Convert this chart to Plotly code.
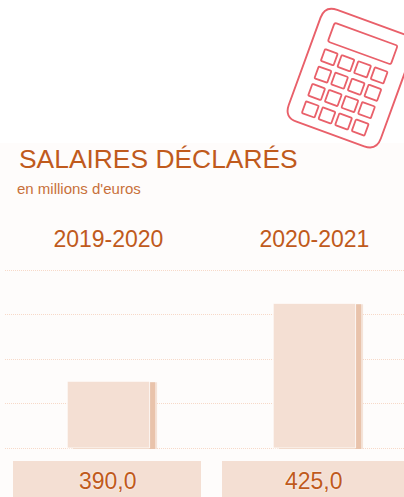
import math
import plotly.graph_objects as go

W, H = 404, 497
periods = ["2019-2020", "2020-2021"]
salaries = [390.0, 425.0]
grid_ticks = [360, 380, 400, 420, 440]
AXIS_BASE = 360

ORANGE = "#C05A1C"
PALE = "#F4DFD3"
SHADOW = "#E9C3AB"
SHADOW_SOFT = "#F5E3D8"
GRID = "#F7D9C8"
RED = "#E9606A"
FONT = "Liberation Sans"

def px(x):
    return x / W

def py(y):
    return 1 - y / H

# calculator icon (decoration), defined in its own rotated frame
ANG = math.radians(20)
OX, OY = 325.0, 5.4

def loc(u, v):
    sx = OX + u * math.cos(ANG) - v * math.sin(ANG)
    sy = OY + u * math.sin(ANG) + v * math.cos(ANG)
    return f"{px(sx):.5f},{py(sy):.5f}"

def rrect(u0, v0, u1, v1, r):
    return (
        f"M{loc(u0 + r, v0)} L{loc(u1 - r, v0)} Q{loc(u1, v0)} {loc(u1, v0 + r)} "
        f"L{loc(u1, v1 - r)} Q{loc(u1, v1)} {loc(u1 - r, v1)} "
        f"L{loc(u0 + r, v1)} Q{loc(u0, v1)} {loc(u0, v1 - r)} "
        f"L{loc(u0, v0 + r)} Q{loc(u0, v0)} {loc(u0 + r, v0)} Z"
    )

def icon_shape(path, width):
    return dict(type="path", path=path, xref="paper", yref="paper",
                line=dict(color=RED, width=width), layer="above")

shapes = [
    dict(type="rect", xref="paper", yref="paper", x0=0, x1=1, y0=0, y1=py(143),
         fillcolor="#FEFCFB", line_width=0, layer="below"),
    dict(type="rect", xref="paper", yref="paper", x0=px(13), x1=px(201), y0=0, y1=py(461),
         fillcolor=PALE, line_width=0, layer="below"),
    dict(type="rect", xref="paper", yref="paper", x0=px(222), x1=1, y0=0, y1=py(461),
         fillcolor=PALE, line_width=0, layer="below"),
    icon_shape(rrect(0, 0, 98, 119, 13), 1.9),
    icon_shape(rrect(15, 13, 82, 33, 2), 1.8),
]
for row in range(4):
    for col in range(4):
        u0 = 15 + col * 17.7
        v0 = 41 + row * 18.5
        shapes.append(icon_shape(rrect(u0, v0, u0 + 13.5, v0 + 12.5, 1), 1.8))

heights = [v - AXIS_BASE for v in salaries]

fig = go.Figure()
fig.add_bar(x=periods, y=heights, base=AXIS_BASE - 0.4, width=0.4, offset=-0.2 + 7.5 / 206,
            marker=dict(color=SHADOW_SOFT, line_width=0), hoverinfo="skip", showlegend=False)
fig.add_bar(x=periods, y=heights, base=AXIS_BASE - 0.4, width=0.4, offset=-0.2 + 5.5 / 206,
            marker=dict(color=SHADOW, line_width=0), hoverinfo="skip", showlegend=False)
fig.add_bar(x=periods, y=heights, base=AXIS_BASE, width=0.4, offset=-0.2,
            marker=dict(color=PALE, line=dict(color="#FFFFFF", width=0.8)), showlegend=False,
            customdata=salaries, hovertemplate="%{x}: %{customdata}<extra></extra>")

annotations = [
    dict(text="SALAIRES DÉCLARÉS", xref="paper", yref="paper", x=px(17), y=py(159),
         xanchor="left", yanchor="middle", showarrow=False,
         font=dict(family=FONT, size=26.4, color=ORANGE)),
    dict(text="en millions d'euros", xref="paper", yref="paper", x=px(15), y=py(189),
         xanchor="left", yanchor="middle", showarrow=False,
         font=dict(family=FONT, size=15, color="#C8703A")),
]
for p, v in zip(periods, salaries):
    annotations.append(dict(
        text=f"{v:.1f}".replace(".", ","), x=p, xref="x", yref="paper", y=py(481),
        xanchor="center", yanchor="middle", showarrow=False,
        font=dict(family=FONT, size=23, color=ORANGE, shadow="0 0 2px #FFFFFF"),
    ))

PAD = 0.7  # axis units kept beyond the first and last gridlines so they stay drawn
UNIT_PX = 178 / 80

fig.update_layout(
    width=W, height=H, autosize=False,
    margin=dict(l=0, r=0, t=0, b=0, pad=0),
    paper_bgcolor="#FFFFFF", plot_bgcolor="rgba(0,0,0,0)",
    barmode="overlay", showlegend=False,
    shapes=shapes, annotations=annotations,
    xaxis=dict(domain=[px(5), 1], type="category", range=[-0.502, 1.435], side="top",
               anchor="y", showgrid=False, zeroline=False, showline=False,
               ticks="", ticklabelstandoff=16, fixedrange=True,
               tickfont=dict(family=FONT, size=23, color=ORANGE)),
    yaxis=dict(domain=[py(448 + PAD * UNIT_PX), py(270 - PAD * UNIT_PX)],
               range=[360 - PAD, 440 + PAD], tickvals=grid_ticks,
               showticklabels=False, ticks="", zeroline=False, showline=False,
               showgrid=True, gridcolor=GRID, griddash="1px,1px", gridwidth=1, fixedrange=True),
)
fig.write_html("out.html", config={"displayModeBar": False},
               post_script="document.documentElement.style.margin='0';document.body.style.margin='0';document.body.style.overflow='hidden';")
